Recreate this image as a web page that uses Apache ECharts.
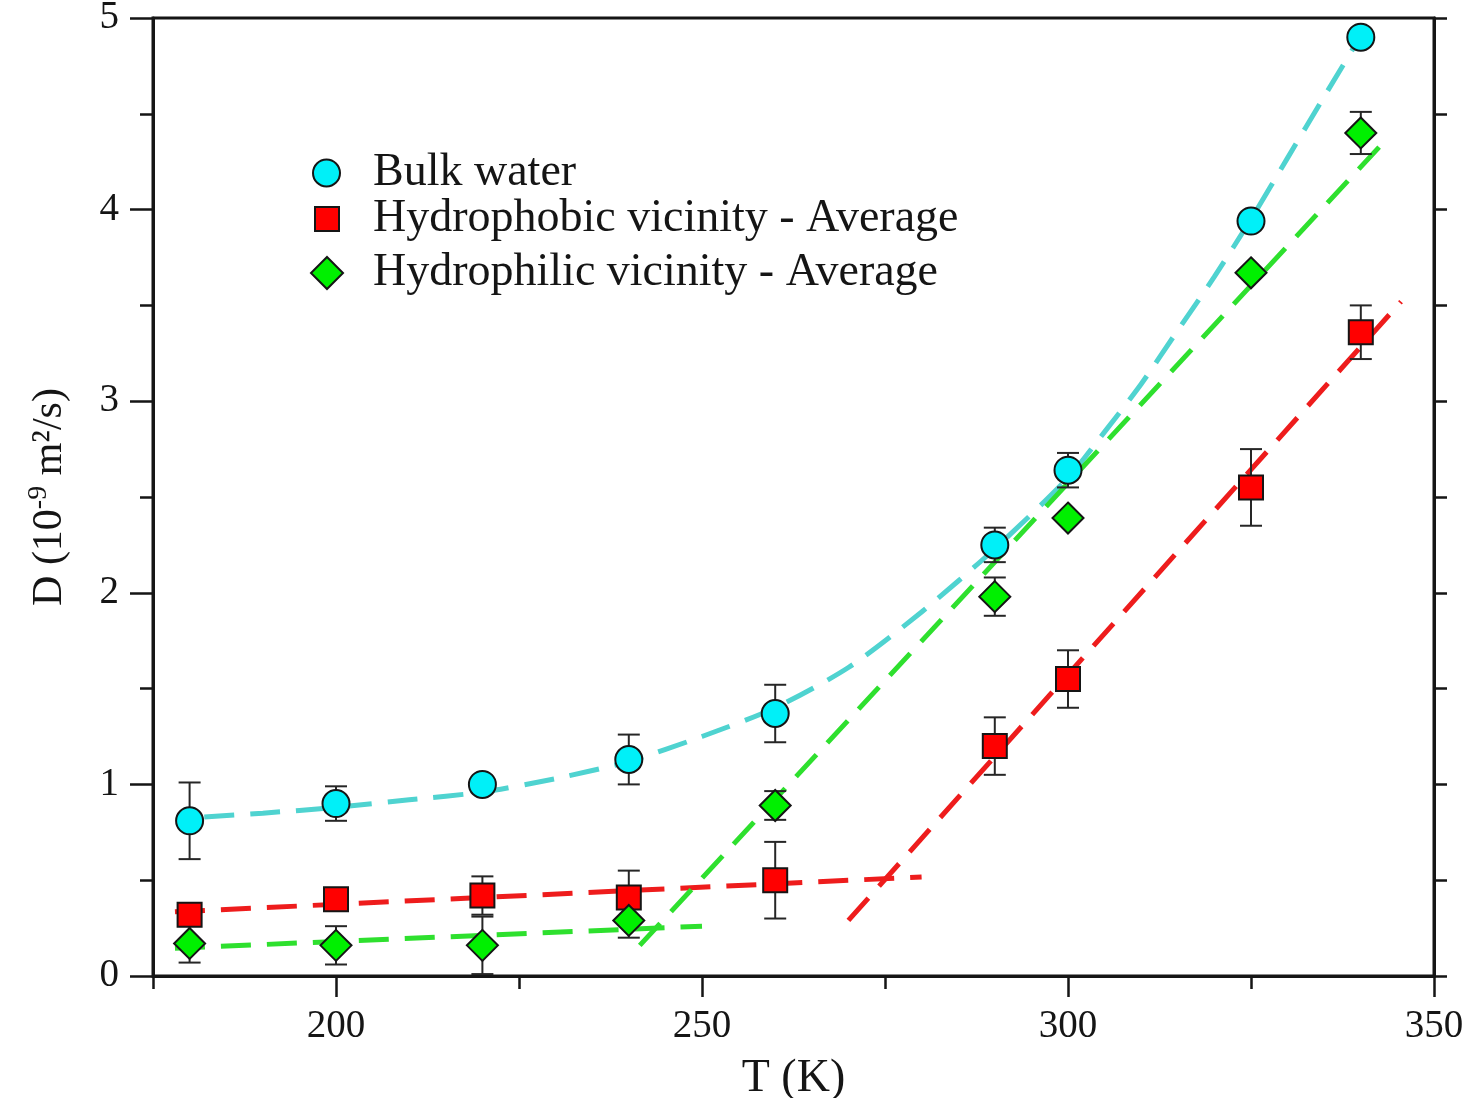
<!DOCTYPE html>
<html>
<head>
<meta charset="utf-8">
<script src="https://cdn.jsdelivr.net/npm/echarts@6/dist/echarts.min.js"></script>
<style>
html,body{margin:0;padding:0;background:#fff;}
#chart{width:1470px;height:1098px;}
</style>
</head>
<body>
<div id="chart"></div>
<script>
// ---- data ----
const temps = [180, 200, 220, 240, 260, 290, 300, 325, 340];

const bulkD   = [0.81, 0.90, 1.00, 1.13, 1.37, 2.25, 2.64, 3.94, 4.90];
const bulkErr = [0.20, 0.09, 0.00, 0.13, 0.15, 0.09, 0.09, 0.00, 0.00];

const phobD   = [0.32, 0.40, 0.42, 0.41, 0.50, 1.20, 1.55, 2.55, 3.36];
const phobErr = [0.00, 0.00, 0.10, 0.14, 0.20, 0.15, 0.15, 0.20, 0.14];

const philD   = [0.17, 0.16, 0.16, 0.29, 0.89, 1.98, 2.39, 3.67, 4.40];
const philErr = [0.10, 0.10, 0.15, 0.09, 0.075, 0.10, 0.00, 0.00, 0.11];

// fit curves (T, D)
const bulkFitT = [182, 190, 200, 210, 220, 230, 240, 250, 260, 270, 280, 290, 300, 305, 310, 315, 320, 325, 330, 335, 341];
const bulkFitD = [0.83, 0.85, 0.88, 0.92, 0.96, 1.03, 1.12, 1.25, 1.40, 1.61, 1.90, 2.23, 2.60, 2.84, 3.09, 3.37, 3.65, 3.95, 4.27, 4.59, 4.97];

const phobLowT  = [178, 280];  const phobLowD  = [0.335, 0.517];
const phobHighT = [270, 345.5];  const phobHighD = [0.29, 3.52];
const philLowT  = [178, 250];  const philLowD  = [0.145, 0.26];
const philHighT = [241.5, 342.6]; const philHighD = [0.16, 4.33];

const xTickLabels = [200, 250, 300, 350];
const yTickLabels = [0, 1, 2, 3, 4, 5];

const names = ['Bulk water', 'Hydrophobic vicinity - Average', 'Hydrophilic vicinity - Average'];

// ---- helpers ----
const zip = (a, b) => a.map((v, i) => [v, b[i]]);
const errData = (d, e) => temps.map((t, i) => [t, d[i] - e[i], d[i] + e[i]]).filter((r, i) => e[i] > 0);

const SERIF = '"Liberation Serif","Times New Roman",serif';
const INK = '#151515';

function errSeries(d, e) {
  return {
    type: 'custom',
    z: 3,
    silent: true,
    data: errData(d, e),
    encode: { x: 0, y: [1, 2] },
    renderItem: function (params, api) {
      const x = api.value(0);
      const lo = api.coord([x, api.value(1)]);
      const hi = api.coord([x, api.value(2)]);
      const cap = 11;
      const style = { stroke: '#262626', lineWidth: 2 };
      return {
        type: 'group',
        children: [
          { type: 'line', shape: { x1: lo[0], y1: lo[1], x2: hi[0], y2: hi[1] }, style: style },
          { type: 'line', shape: { x1: lo[0] - cap, y1: lo[1], x2: lo[0] + cap, y2: lo[1] }, style: style },
          { type: 'line', shape: { x1: hi[0] - cap, y1: hi[1], x2: hi[0] + cap, y2: hi[1] }, style: style }
        ]
      };
    }
  };
}

function fitSeries(t, d, color, smooth) {
  return {
    type: 'line',
    z: 2,
    silent: true,
    data: zip(t, d),
    smooth: smooth ? 0.25 : false,
    showSymbol: false,
    symbol: 'none',
    lineStyle: { color: color, width: 5, type: [30, 16] }
  };
}

function legendFor(name, size, left, top, padLeft) {
  return {
    data: [name],
    left: left, top: top,
    itemWidth: size, itemHeight: size,
    selectedMode: false,
    textStyle: { fontFamily: SERIF, fontSize: 46, color: INK, padding: [0, 0, 0, padLeft] }
  };
}

const chart = echarts.init(document.getElementById('chart'), null, { renderer: 'canvas' });

const option = {
  animation: false,
  backgroundColor: '#ffffff',
  grid: {
    left: 153, right: 36, top: 18, bottom: 122,
    show: true, borderColor: INK, borderWidth: 3,
    outerBoundsMode: 'none'
  },
  legend: [
    legendFor(names[0], 27, 307, 145, 28),
    legendFor(names[1], 24, 309, 191, 29),
    legendFor(names[2], 32, 305, 245, 25)
  ],
  xAxis: [
    {
      type: 'value', min: 175, max: 350, interval: 25,
      position: 'bottom',
      axisLine: { show: true, lineStyle: { color: INK, width: 3 } },
      axisTick: { show: true, inside: false, length: 13, lineStyle: { color: INK, width: 2.5 } },
      axisLabel: {
        show: true, margin: 31, fontSize: 39, fontFamily: SERIF, color: INK,
        formatter: v => (xTickLabels.indexOf(v) >= 0 ? String(v) : '')
      },
      splitLine: { show: false },
      name: 'T (K)', nameLocation: 'middle', nameGap: 80,
      nameTextStyle: { fontSize: 46, fontFamily: SERIF, color: INK }
    },
    {
      type: 'value', min: 175, max: 350, interval: 25,
      position: 'bottom',
      axisLine: { show: false },
      axisTick: { show: true, length: 21, customValues: xTickLabels, lineStyle: { color: INK, width: 2.5 } },
      axisLabel: { show: false },
      splitLine: { show: false }
    }
  ],
  yAxis: [
    {
      type: 'value', min: 0, max: 5, interval: 1,
      position: 'left',
      axisLine: { show: true, lineStyle: { color: INK, width: 3 } },
      axisTick: { show: true, length: 23, lineStyle: { color: INK, width: 2.5 } },
      minorTick: { show: true, splitNumber: 2, length: 13, lineStyle: { color: INK, width: 2.5 } },
      axisLabel: {
        margin: 34, fontSize: 39, fontFamily: SERIF, color: INK,
        formatter: v => (yTickLabels.indexOf(v) >= 0 ? String(v) : '')
      },
      splitLine: { show: false }, minorSplitLine: { show: false },
      name: '{m|D (10}{s|-9}{m| m²/s)}',
      nameLocation: 'middle', nameGap: 78, nameRotate: 90,
      nameTextStyle: {
        fontFamily: SERIF, color: INK,
        rich: {
          m: { fontSize: 42, fontFamily: SERIF, color: INK },
          s: { fontSize: 28, fontFamily: SERIF, color: INK, verticalAlign: 'top', padding: [0, 0, 22, 0] }
        }
      }
    },
    {
      type: 'value', min: 0, max: 5, interval: 0.5,
      position: 'right',
      axisLine: { show: true, lineStyle: { color: INK, width: 3 } },
      axisTick: { show: true, inside: false, length: 13, lineStyle: { color: INK, width: 2.5 } },
      axisLabel: { show: false },
      splitLine: { show: false }
    }
  ],
  series: [
    fitSeries(bulkFitT, bulkFitD, '#4fd3d0', true),
    fitSeries(phobLowT, phobLowD, '#ee1c1c', false),
    fitSeries(phobHighT, phobHighD, '#ee1c1c', false),
    fitSeries(philLowT, philLowD, '#2ee02e', false),
    fitSeries(philHighT, philHighD, '#2ee02e', false),
    errSeries(bulkD, bulkErr),
    errSeries(phobD, phobErr),
    errSeries(philD, philErr),
    {
      name: names[0], type: 'scatter', z: 5,
      data: zip(temps, bulkD), symbol: 'circle', symbolSize: 27,
      itemStyle: { color: '#00f0f8', borderColor: INK, borderWidth: 2, opacity: 1 }
    },
    {
      name: names[1], type: 'scatter', z: 5,
      data: zip(temps, phobD), symbol: 'rect', symbolSize: 24,
      itemStyle: { color: '#ff0000', borderColor: INK, borderWidth: 2, opacity: 1 }
    },
    {
      name: names[2], type: 'scatter', z: 5,
      data: zip(temps, philD), symbol: 'diamond', symbolSize: 31,
      itemStyle: { color: '#00f000', borderColor: INK, borderWidth: 2, opacity: 1 }
    }
  ]
};

chart.setOption(option);
</script>
</body>
</html>
